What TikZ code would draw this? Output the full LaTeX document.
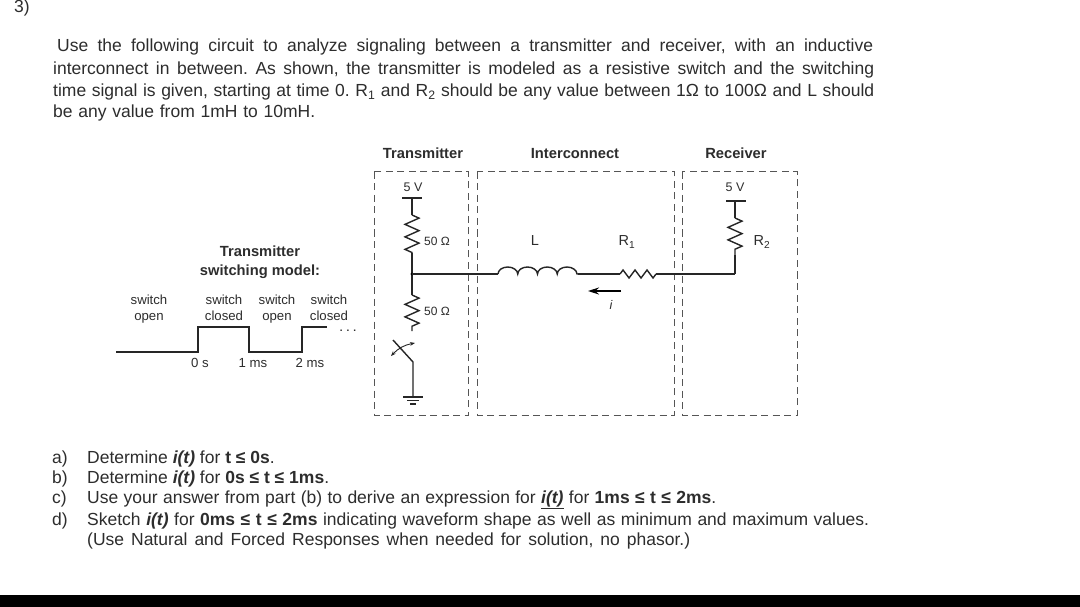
\documentclass[tikz,border=0pt]{standalone}
\usepackage{fontspec}
\setmainfont{Liberation Sans}
\usetikzlibrary{decorations.pathmorphing,arrows.meta}
\definecolor{inkgray}{RGB}{45,45,45}
\definecolor{boxgray}{RGB}{85,85,85}
\newcommand{\fs}[1]{\fontsize{#1}{#1}\selectfont\frenchspacing}
% full line stretched to the measured width
\newcommand{\fitline}[2]{\makebox[#1pt][s]{#2}}
\tikzset{
  para/.style={anchor=base west,inner sep=0pt,text=inkgray,font=\fs{17.5}},
  head/.style={anchor=base,inner sep=0pt,text=inkgray,font=\fs{14.7}\bfseries},
  small/.style={anchor=base,inner sep=0pt,text=inkgray,font=\fs{13.2}},
  wire/.style={line width=1.4pt,black!85},
  dashbox/.style={boxgray,line width=1pt,dash pattern=on 7pt off 4.5pt},
  resv/.style={wire,decorate,decoration={zigzag,segment length=12.5pt,amplitude=7pt}},
  resh/.style={wire,decorate,decoration={zigzag,segment length=12pt,amplitude=4pt}},
  coil/.style={wire,decorate,decoration={bumps,segment length=39.5pt,amplitude=7pt}}
}
\begin{document}
\begin{tikzpicture}[x=1pt,y=-1pt]
\useasboundingbox (0,0) rectangle (1080,607);
\fill[white] (0,0) rectangle (1080,607);
\fill[black] (0,595) rectangle (1080,607);

% Question text
\node[para] (qnum) at (14,13) {3)};
\node[para] (introa) at (57,52) {\fitline{816}{Use the following circuit to analyze signaling between a transmitter and receiver, with an inductive}};
\node[para] (introb) at (53,74.5) {\fitline{821}{interconnect in between. As shown, the transmitter is modeled as a resistive switch and the switching}};
\node[para] (introc) at (53,96.5) {\fitline{821}{time signal is given, starting at time 0. R\textsubscript{1} and R\textsubscript{2} should be any value between 1Ω to 100Ω and L should}};
\node[para] (introd) at (53,118) {\fitline{262}{be any value from 1mH to 10mH.}};

% Dashed blocks
\draw[dashbox] (374,172) rectangle (468,415);
\draw[dashbox] (477,172) rectangle (674,415);
\draw[dashbox] (682,172) rectangle (797,415);
\node[head] (txhead) at (423,159) {Transmitter};
\node[head] (ichead) at (575,159) {Interconnect};
\node[head] (rxhead) at (736,159) {Receiver};

% Transmitter side
\coordinate (vtx) at (412,198);
\coordinate (rua) at (412,215);
\coordinate (rub) at (412,253);
\coordinate (mid) at (412,274);
\coordinate (rla) at (412,295);
\coordinate (rlb) at (412,331);
\coordinate (swtop) at (393,340);
\coordinate (swbot) at (413,362);
\coordinate (gnd) at (413,397);
\draw[wire] (402,198) -- (422,198);
\draw[wire] (vtx) -- (rua);
\draw[resv] (rua) -- (rub);
\draw[wire] (rub) -- (mid) -- (rla);
\draw[resv] (rla) -- (rlb);
\draw[wire] (swtop) -- (swbot) -- (gnd);
\draw[line width=0.9pt,black!85,{Stealth[length=5pt]}-{Stealth[length=5pt]}] (391,356) to[bend left=18] (415,343);
\draw[wire] (403,397) -- (423,397);
\draw[wire] (407,400.5) -- (419,400.5);
\draw[wire] (410,404) -- (416,404);
\fill[black] (mid) circle (1.6pt);
\node[small,font=\fs{12.5}] (vtxlab) at (413,192) {5 V};
\node[small,font=\fs{12}] (rualab) at (437,245) {50 Ω};
\node[small,font=\fs{12}] (rllab) at (437,315) {50 Ω};

% Interconnect
\coordinate (la) at (498,274);
\coordinate (lb) at (578,274);
\coordinate (ra) at (620,274);
\coordinate (rb) at (656,274);
\coordinate (rxn) at (735,274);
\draw[wire] (mid) -- (la);
\draw[coil] (la) -- (lb);
\draw[wire] (lb) -- (ra);
\draw[resh] (ra) -- (rb);
\draw[wire] (rb) -- (rxn);
\node[small,font=\fs{14.5}] (llab) at (535,245) {L};
\node[small,font=\fs{14.5}] (r1lab) at (627,246) {R\textsubscript{1}};
\coordinate (arrs) at (621,291);
\coordinate (arre) at (588,291);
\draw[line width=1.4pt,black,-{Stealth[length=11pt,width=7pt]}] (arrs) -- (arre);
\node[small,font=\fs{12.5}\itshape] (ilab) at (611,309) {i};

% Receiver
\coordinate (vrx) at (735,201);
\coordinate (rra) at (735,218);
\coordinate (rrb) at (735,255);
\draw[wire] (726,201) -- (746,201);
\draw[wire] (vrx) -- (rra);
\draw[resv] (rra) -- (rrb);
\draw[wire] (rrb) -- (rxn);
\node[small,font=\fs{12.5}] (vrxlab) at (735,192) {5 V};
\node[small,font=\fs{14.5}] (r2lab) at (762,246) {R\textsubscript{2}};

% Switching model
\node[head] (modela) at (260,257) {Transmitter};
\node[head] (modelb) at (260,275) {switching model:};
\node[small] (sa) at (149,304.5) {switch};
\node[small] (sb) at (149,320.5) {open};
\node[small] (sc) at (224,304.5) {switch};
\node[small] (sd) at (224,320.5) {closed};
\node[small] (se) at (277,304.5) {switch};
\node[small] (sf) at (277,320.5) {open};
\node[small] (sg) at (329,304.5) {switch};
\node[small] (sh) at (329,320.5) {closed};
\coordinate (wa) at (116,352);
\coordinate (wb) at (198,352);
\coordinate (wc) at (198,327);
\coordinate (wd) at (249,327);
\coordinate (we) at (249,352);
\coordinate (wf) at (302,352);
\coordinate (wg) at (302,327);
\coordinate (wh) at (327,327);
\draw[wire,line width=1.6pt] (wa) -- (wb) -- (wc) -- (wd) -- (we) -- (wf) -- (wg) -- (wh);
\node[small,font=\fs{10}\bfseries] (dots) at (348,331) {.\hspace{4pt}.\hspace{4pt}.};
\node[small] (ta) at (200,367) {0 s};
\node[small] (tb) at (253,367) {1 ms};
\node[small] (tc) at (310,367) {2 ms};

% Parts
\node[para] (pa) at (52,463) {a)};
\node[para] (pta) at (87,463) {Determine \textbf{\textit{i(t)}} for \textbf{t ≤ 0s}.};
\node[para] (pb) at (52,483) {b)};
\node[para] (ptb) at (87,483) {Determine \textbf{\textit{i(t)}} for \textbf{0s ≤ t ≤ 1ms}.};
\node[para] (pc) at (52,503) {c)};
\node[para] (ptc) at (87,503) {\fitline{629}{Use your answer from part (b) to derive an expression for \underline{\textbf{\textit{i(t)}}} for \textbf{1ms ≤ t ≤ 2ms}.}};
\node[para] (pd) at (52,525) {d)};
\node[para] (ptd) at (87,525) {\fitline{782}{Sketch \textbf{\textit{i(t)}} for \textbf{0ms ≤ t ≤ 2ms} indicating waveform shape as well as minimum and maximum values.}};
\node[para] (pte) at (87,545) {\fitline{603}{(Use Natural and Forced Responses when needed for solution, no phasor.)}};
\end{tikzpicture}
\end{document}
